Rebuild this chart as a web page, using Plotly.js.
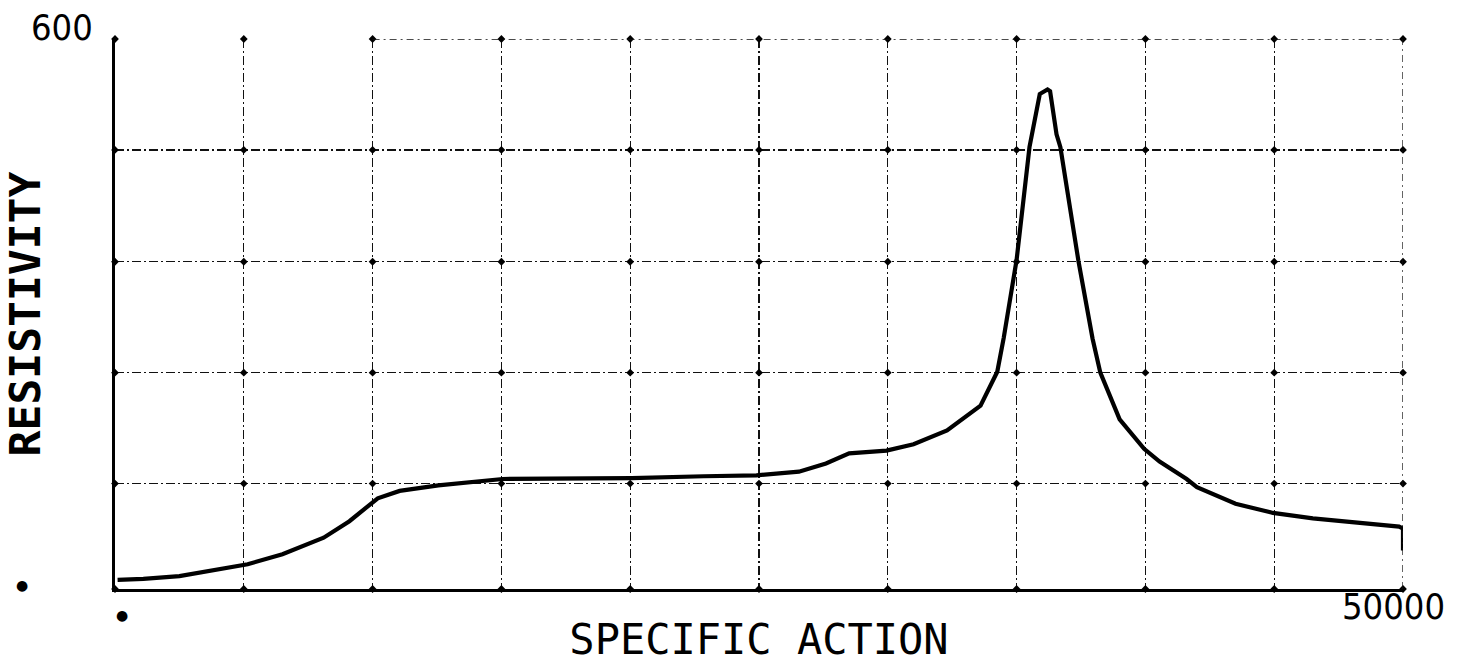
<!DOCTYPE html>
<html>
<head>
<meta charset="utf-8">
<script src="https://cdn.plot.ly/plotly-3.0.1.min.js"></script>
<style>
  html, body { margin: 0; padding: 0; background: #ffffff; }
  #chart { width: 1460px; height: 664px; }
</style>
</head>
<body>
<div id="chart"></div>
<script>
// ---- data ----
const specificAction = [100, 1100, 2500, 3300, 5150, 6500, 8100, 9100, 10200, 11050, 12550, 15050, 17700, 20050, 22850, 24900, 26550, 27600, 28500, 29950, 31000, 32300, 33600, 34100, 34250, 34500, 35000, 35500, 35900, 36200, 36300, 36550, 36700, 37400, 37950, 38250, 39000, 39950, 40550, 41600, 42000, 43500, 44950, 46500, 48450, 49850, 50000, 50000];
const resistivity    = [10, 11, 14, 18, 27, 38, 56, 74, 99, 107, 113, 120, 120, 121, 123, 124, 128, 137, 148, 151, 158, 173, 200, 227, 237, 274, 359, 482, 540, 545, 543, 496, 482, 358, 273, 236, 185, 153, 139, 120, 111, 93, 83, 77, 72, 68, 66, 42];

const xGridValues = [5000, 10000, 15000, 20000, 25000, 30000, 35000, 40000, 45000, 50000];
const yGridValues = [115, 236, 357, 479, 600];
const xRange = [0, 50000];
const yRange = [0, 600];
const xLabelText = "50000";
const yLabelText = "600";
const xTitle = "SPECIFIC ACTION";
const yTitle = "RESISTIVITY";

// intersection markers of the grid (drawn from the grid arrays)
const crossX = [], crossY = [];
[0].concat(xGridValues).forEach(function (gx) {
  [0].concat(yGridValues).forEach(function (gy) {
    crossX.push(gx); crossY.push(gy);
  });
});

const traces = [
  {
    x: crossX, y: crossY, type: 'scatter', mode: 'markers',
    marker: { symbol: 'diamond', size: 6, color: '#000' },
    hoverinfo: 'skip', showlegend: false, cliponaxis: false
  },
  {
    x: specificAction, y: resistivity, type: 'scatter', mode: 'lines',
    line: { color: '#000', width: 4.2, shape: 'linear' },
    showlegend: false, cliponaxis: false
  }
];

const gridDash = '9px,3px,2px,3px';
const edgeDash = '7px,4px,2px,4px';
const topY = yGridValues[yGridValues.length - 1];
const rightX = xGridValues[xGridValues.length - 1];

const layout = {
  width: 1460, height: 664,
  margin: { l: 115, r: 57, t: 39, b: 75 },
  paper_bgcolor: '#fff', plot_bgcolor: '#fff',
  showlegend: false,
  xaxis: {
    range: xRange, tickvals: xGridValues, showticklabels: false, ticks: '',
    showgrid: true, gridcolor: '#111', gridwidth: 1.3, griddash: gridDash,
    showline: true, linecolor: '#000', linewidth: 3, zeroline: false,
    title: { text: xTitle, font: { family: 'DejaVu Sans Mono, monospace', size: 42, color: '#000' }, standoff: 34 }
  },
  yaxis: {
    range: yRange, tickvals: yGridValues, showticklabels: false, ticks: '',
    showgrid: true, gridcolor: '#111', gridwidth: 1.3, griddash: gridDash,
    showline: true, linecolor: '#000', linewidth: 3, zeroline: false,
    title: { text: yTitle, font: { family: 'DejaVu Sans Mono, monospace', size: 43, color: '#000', weight: 'bold' }, standoff: 58 }
  },
  shapes: [
    { type: 'line', xref: 'x', yref: 'y', x0: xGridValues[1], x1: rightX, y0: topY, y1: topY,
      line: { color: '#111', width: 1.3, dash: edgeDash } },
    { type: 'line', xref: 'x', yref: 'y', x0: rightX, x1: rightX, y0: yRange[0], y1: topY,
      line: { color: '#111', width: 1.3, dash: edgeDash } }
  ],
  annotations: [
    { xref: 'paper', x: 0, xanchor: 'center', xshift: -53, yref: 'y', y: yRange[1], yanchor: 'middle', yshift: 12,
      text: yLabelText, showarrow: false, font: { family: 'Liberation Sans Narrow, DejaVu Sans Condensed, sans-serif', size: 36, color: '#000' } },
    { xref: 'x', x: xRange[1], xanchor: 'center', xshift: -10, yref: 'paper', y: 0, yanchor: 'middle', yshift: -17,
      text: xLabelText, showarrow: false, font: { family: 'Liberation Sans Narrow, DejaVu Sans Condensed, sans-serif', size: 36, color: '#000' } },
    { xref: 'paper', x: 0, xanchor: 'center', xshift: -93, yref: 'y', y: yRange[0], yanchor: 'middle', yshift: 4,
      text: '●', showarrow: false, font: { family: 'DejaVu Sans, sans-serif', size: 14, color: '#000' } },
    { xref: 'x', x: xRange[0], xanchor: 'center', xshift: 7, yref: 'paper', y: 0, yanchor: 'middle', yshift: -26,
      text: '●', showarrow: false, font: { family: 'DejaVu Sans, sans-serif', size: 14, color: '#000' } }
  ]
};

Plotly.newPlot('chart', traces, layout, { displayModeBar: false, staticPlot: true });
</script>
</body>
</html>
